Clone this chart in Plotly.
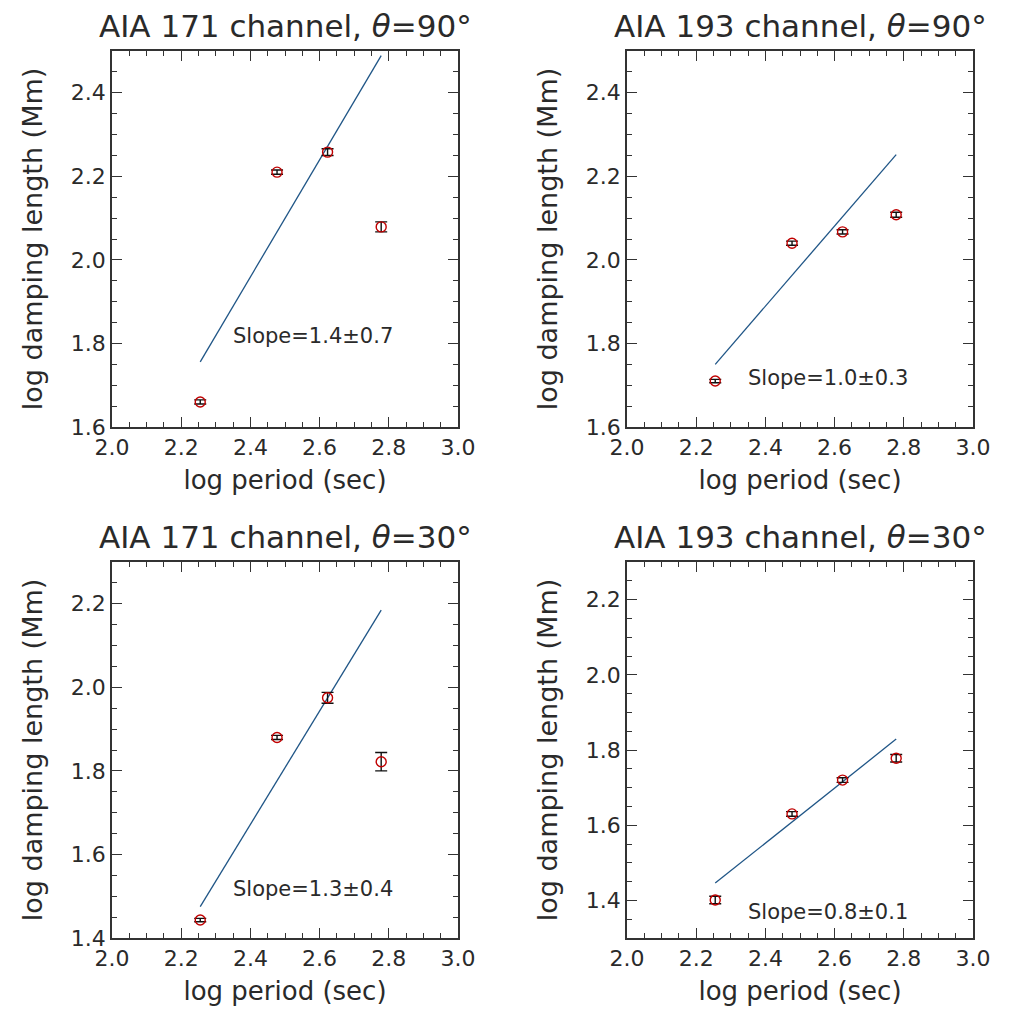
import plotly.graph_objects as go

# ---- data ----
log_period = [2.255, 2.477, 2.623, 2.778]

titles = ["AIA 171 channel, <i>θ</i>=90°", "AIA 193 channel, <i>θ</i>=90°",
          "AIA 171 channel, <i>θ</i>=30°", "AIA 193 channel, <i>θ</i>=30°"]

tl_y = [1.660, 2.210, 2.258, 2.079]
tl_err = [0.005, 0.005, 0.008, 0.012]
tl_fit = [1.756, 2.489]
tl_slope = "Slope=1.4±0.7"

tr_y = [1.710, 2.040, 2.067, 2.108]
tr_err = [0.004, 0.005, 0.005, 0.006]
tr_fit = [1.750, 2.252]
tr_slope = "Slope=1.0±0.3"

bl_y = [1.443, 1.880, 1.975, 1.822]
bl_err = [0.004, 0.005, 0.013, 0.022]
bl_fit = [1.475, 2.185]
bl_slope = "Slope=1.3±0.4"

br_y = [1.401, 1.630, 1.720, 1.778]
br_err = [0.010, 0.006, 0.006, 0.010]
br_fit = [1.446, 1.829]
br_slope = "Slope=0.8±0.1"

y_ranges = [[1.6, 2.5], [1.6, 2.5], [1.4, 2.3], [1.3, 2.3]]
slope_text_y = [1.817, 1.717, 1.518, 1.369]
x_range = [2.0, 3.0]
x_ticks = [2.0, 2.2, 2.4, 2.6, 2.8, 3.0]

panels = [
    (tl_y, tl_err, tl_fit, tl_slope),
    (tr_y, tr_err, tr_fit, tr_slope),
    (bl_y, bl_err, bl_fit, bl_slope),
    (br_y, br_err, br_fit, br_slope),
]

# ---- layout geometry (page body has an 8px margin) ----
OFF = 8
W, H = 1010 - OFF, 1011 - OFF


def px_x(p):
    return (p - OFF) / W


def px_y(p):
    return 1 - (p - OFF) / H


x_domains = [[px_x(112), px_x(458)], [px_x(627), px_x(973)]]
y_domains = [[px_y(427), px_y(51)], [px_y(938), px_y(562)]]

FONT = "DejaVu Sans"
TXT = "#2a2a2a"
fig = go.Figure()
annotations = []

for i, (yv, ev, fit, slope) in enumerate(panels):
    row, col = divmod(i, 2)
    xa = "x" if i == 0 else f"x{i+1}"
    ya = "y" if i == 0 else f"y{i+1}"
    fig.add_trace(go.Scatter(
        x=[log_period[0], log_period[-1]], y=fit, mode="lines",
        line=dict(color="#1f5586", width=1.3), xaxis=xa, yaxis=ya,
        showlegend=False, hoverinfo="skip"))
    fig.add_trace(go.Scatter(
        x=log_period, y=yv, mode="markers",
        marker=dict(symbol="circle-open", color="#c00000", size=10,
                    line=dict(width=1.4, color="#c00000")),
        error_y=dict(type="data", array=ev, color="#111111",
                     thickness=1.4, width=6),
        xaxis=xa, yaxis=ya, showlegend=False))

    axis_common = dict(
        showline=True, linecolor="#333333", linewidth=1.5, mirror="ticks",
        ticks="inside", ticklen=10, tickwidth=1.2, tickcolor="#333333",
        showgrid=False, zeroline=False, automargin=False,
        tickfont=dict(family=FONT, size=22, color=TXT),
        minor=dict(dtick=0.05, ticks="inside", ticklen=5, tickwidth=1.0,
                   tickcolor="#333333", showgrid=False),
    )
    xkey = "xaxis" if i == 0 else f"xaxis{i+1}"
    ykey = "yaxis" if i == 0 else f"yaxis{i+1}"
    fig.update_layout(**{
        xkey: dict(axis_common, domain=x_domains[col], range=x_range,
                   anchor=ya, tickvals=x_ticks, tickformat=".1f",
                   title=dict(text="log period (sec)",
                              font=dict(family=FONT, size=26, color=TXT),
                              standoff=12)),
        ykey: dict(axis_common, domain=y_domains[row], range=y_ranges[i],
                   anchor=xa, dtick=0.2, tickformat=".1f",
                   title=dict(text="log damping length (Mm)",
                              font=dict(family=FONT, size=27, color=TXT),
                              standoff=20)),
    })
    annotations.append(dict(
        text=slope, x=2.345, y=slope_text_y[i], xref=xa, yref=ya,
        xanchor="left", yanchor="middle", showarrow=False,
        font=dict(family=FONT, size=21, color=TXT)))
    annotations.append(dict(
        text=titles[i], x=sum(x_domains[col]) / 2,
        y=y_domains[row][1] + 25 / H, xref="paper", yref="paper",
        xanchor="center", yanchor="middle", showarrow=False,
        font=dict(family=FONT, size=31, color=TXT)))

fig.update_layout(
    template="none",
    width=W, height=H, margin=dict(l=0, r=0, t=0, b=0),
    paper_bgcolor="white", plot_bgcolor="white",
    annotations=annotations,
)

fig.write_html("out.html")
